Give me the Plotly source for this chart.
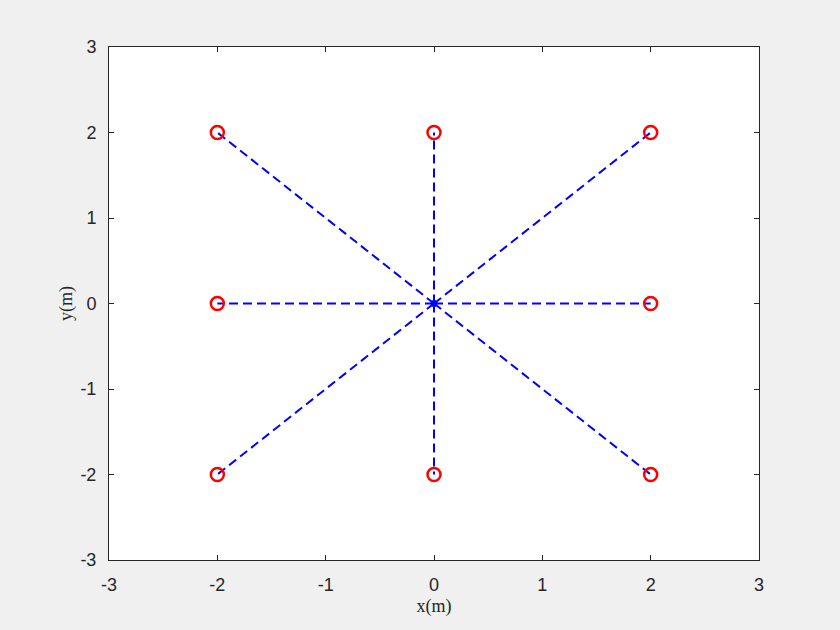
import plotly.graph_objects as go

# Data
center_x = [0]
center_y = [0]
node_x = [-2, 0, 2, -2, 2, -2, 0, 2]
node_y = [2, 2, 2, 0, 0, -2, -2, -2]
x_ticks = [-3, -2, -1, 0, 1, 2, 3]
y_ticks = [-3, -2, -1, 0, 1, 2, 3]

fig = go.Figure()

for nx, ny in zip(node_x, node_y):
    fig.add_trace(go.Scatter(
        x=[center_x[0], nx], y=[center_y[0], ny], mode="lines",
        line=dict(color="#0000ff", width=2, dash="9px,5px"),
        showlegend=False, hoverinfo="skip"))

fig.add_trace(go.Scatter(
    x=node_x, y=node_y, mode="markers",
    marker=dict(symbol="circle-open", size=13, color="#ff0000",
                line=dict(width=2.5, color="#ff0000")),
    showlegend=False))

fig.add_trace(go.Scatter(
    x=center_x, y=center_y, mode="markers",
    marker=dict(symbol="circle", size=7, color="#0000ff"),
    showlegend=False))

tick_font = dict(family="Liberation Sans, Arial", size=18, color="#262626")
title_font = dict(family="Liberation Serif, Times New Roman", size=18, color="#262626")

axis_common = dict(
    showgrid=False, zeroline=False, showline=True, linecolor="#262626",
    linewidth=1, mirror="ticks", ticks="inside", ticklen=5,
    tickcolor="#262626", tickfont=tick_font,
)

fig.update_xaxes(range=[-3, 3], tickvals=x_ticks, ticktext=[str(v) for v in x_ticks],
                 ticklabelstandoff=8,
                 title=dict(text="x(m)", font=title_font, standoff=5),
                 **axis_common)
fig.update_yaxes(range=[-3, 3], tickvals=y_ticks, ticktext=[str(v) for v in y_ticks],
                 ticklabelstandoff=8,
                 title=dict(text="y(m)", font=title_font, standoff=3),
                 **axis_common)

fig.update_layout(
    width=840, height=630,
    margin=dict(l=109, r=81, t=47, b=70),
    paper_bgcolor="#f0f0f0", plot_bgcolor="#ffffff",
    showlegend=False,
)

fig.write_html("out.html", config={"displayModeBar": False},
               post_script="document.body.style.margin='0';document.body.style.background='#f0f0f0';")
